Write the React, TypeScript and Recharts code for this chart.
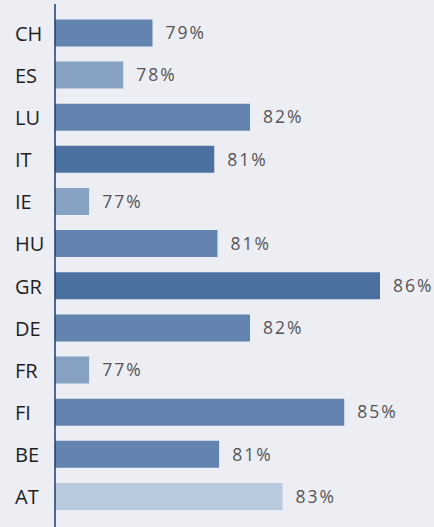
import React from "react";
import { BarChart, Bar, XAxis, YAxis, Cell, LabelList } from "recharts";

const categories = ["CH", "ES", "LU", "IT", "IE", "HU", "GR", "DE", "FR", "FI", "BE", "AT"];
const values = [79.0, 78.1, 82.0, 80.9, 77.05, 81.0, 86.0, 82.0, 77.05, 84.9, 81.05, 83.0];
const tones = ["mid", "light", "mid", "dark", "light", "mid", "dark", "mid", "light", "mid", "mid", "pale"];

const toneColors: Record<string, string> = {
  dark: "#4b71a0",
  mid: "#6384af",
  light: "#87a1c3",
  pale: "#b9cadf",
};

const data = categories.map((c, i) => ({ name: c, value: values[i], tone: tones[i] }));

const FONT = "'Open Sans', 'Noto Sans', sans-serif";

const CategoryTick = (props: any) => {
  const { y, payload } = props;
  return (
    <text x={15} y={y} dy={8.3} textAnchor="start" fill="#1e1e1e" fontSize={20} fontFamily={FONT}>
      {payload.value}
    </text>
  );
};

const ValueLabel = (props: any) => {
  const { x, y, width, height, value } = props;
  return (
    <text
      x={x + width + 13}
      y={y + height / 2}
      dy={6.3}
      textAnchor="start"
      fill="#555555"
      fontSize={17.5}
      fontFamily={FONT}
      style={{ letterSpacing: "2px" }}
    >
      {Math.round(value) + "%"}
    </text>
  );
};

export default function App() {
  return (
    <div style={{ position: "absolute", top: 0, left: 0, width: 434, height: 527, background: "#edeef4" }}>
      <BarChart
        width={434}
        height={527}
        data={data}
        layout="vertical"
        margin={{ top: 4, right: 21.5, bottom: 0, left: 0 }}
        barCategoryGap={15}
      >
        <XAxis type="number" domain={[76, 87]} hide />
        <YAxis
          type="category"
          dataKey="name"
          width={55}
          tick={<CategoryTick />}
          tickLine={false}
          axisLine={{ stroke: "#1d3c70", strokeWidth: 1.5 }}
          padding={{ top: 7.4, bottom: 9.9 }}
          interval={0}
        />
        <Bar dataKey="value" barSize={27} isAnimationActive={false}>
          {data.map((d, i) => (
            <Cell key={i} fill={toneColors[d.tone]} />
          ))}
          <LabelList dataKey="value" content={<ValueLabel />} />
        </Bar>
      </BarChart>
    </div>
  );
}
